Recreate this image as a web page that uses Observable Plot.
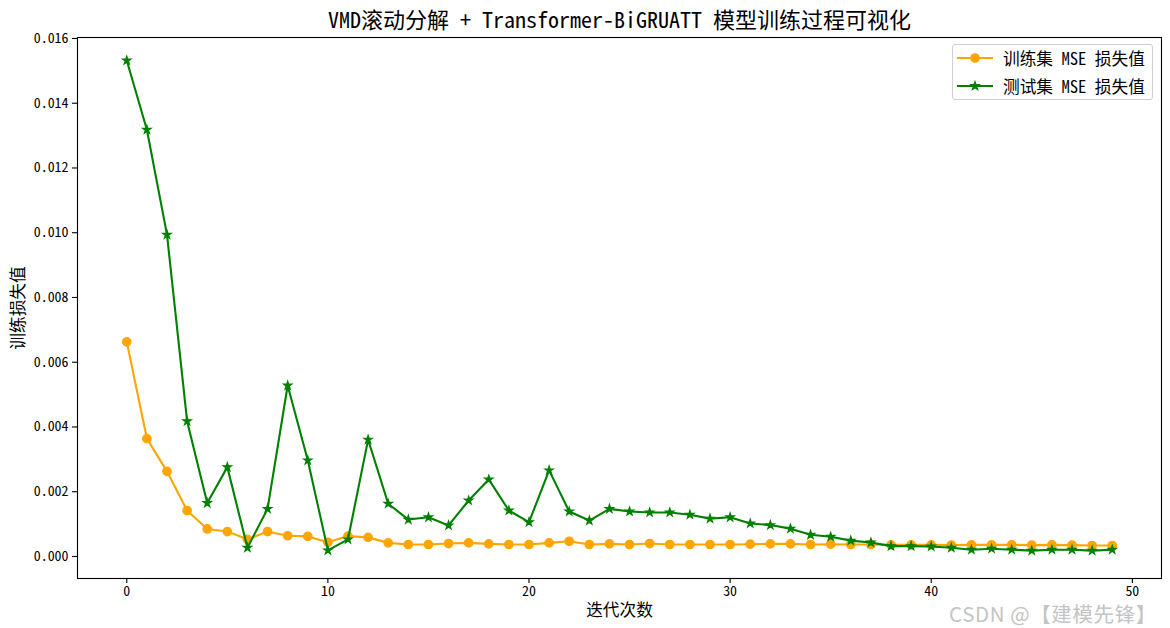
<!DOCTYPE html>
<html>
<head>
<meta charset="utf-8">
<script src="https://cdn.jsdelivr.net/npm/d3@7"></script>
<script src="https://cdn.jsdelivr.net/npm/@observablehq/plot@0.6"></script>
<style>
  html, body { margin: 0; padding: 0; background: #fff; }
  #wrap { position: relative; width: 1170px; height: 628px; font-family: "Noto Sans Mono CJK SC", "DejaVu Sans Mono", "Noto Sans CJK SC", monospace; }
  #legend { position: absolute; left: 952px; top: 44px; width: 199px; height: 54px; border: 1px solid #d0d0d0; border-radius: 3px; background: rgba(255,255,255,0.8); font-size: 16.7px; color: #000; }
  .row { position: absolute; left: 4px; height: 20px; display: flex; align-items: center; }
  .row svg { margin-right: 10px; }
  #wm { position: absolute; left: 949px; top: 603px; font-size: 20.5px; line-height: 1; letter-spacing: 0.6px; color: #c4c4c4; font-family: "Noto Sans CJK SC", sans-serif; white-space: nowrap; }
</style>
</head>
<body>
<div id="wrap"></div>
<script>
// ---- data ----
const epochs = [0,1,2,3,4,5,6,7,8,9,10,11,12,13,14,15,16,17,18,19,20,21,22,23,24,25,26,27,28,29,30,31,32,33,34,35,36,37,38,39,40,41,42,43,44,45,46,47,48,49];
const trainLoss = [0.00663,0.00364,0.00263,0.00142,0.00085,0.00077,0.00053,0.00077,0.00064,0.00062,
                   0.00044,0.00063,0.00059,0.00042,0.00037,0.00037,0.00040,0.00042,0.00039,0.00037,
                   0.00037,0.00042,0.00047,0.00037,0.00039,0.00037,0.00040,0.00037,0.00037,0.00037,
                   0.00037,0.00038,0.00039,0.00039,0.00037,0.00038,0.00037,0.00037,0.00036,0.00036,
                   0.00036,0.00035,0.00036,0.00036,0.00036,0.00035,0.00036,0.00035,0.00034,0.00034];
const testLoss = [0.01532,0.01318,0.00994,0.00418,0.00165,0.00276,0.00027,0.00147,0.00528,0.00297,
                  0.00019,0.00053,0.00361,0.00163,0.00114,0.00121,0.00096,0.00173,0.00238,0.00142,
                  0.00106,0.00266,0.00139,0.00111,0.00147,0.00139,0.00136,0.00136,0.00129,0.00117,
                  0.00121,0.00102,0.00097,0.00086,0.00067,0.00061,0.00049,0.00043,0.00032,0.00032,
                  0.00031,0.00027,0.00021,0.00024,0.00021,0.00018,0.00021,0.00021,0.00018,0.00021];
const xTicks = [0,10,20,30,40,50];
const yTicks = [0,0.002,0.004,0.006,0.008,0.010,0.012,0.014,0.016];
const titleText = "VMD滚动分解 + Transformer-BiGRUATT 模型训练过程可视化";
const xLabel = "迭代次数";
const yLabel = "训练损失值";
const seriesNames = ["训练集 MSE 损失值", "测试集 MSE 损失值"];
const seriesColors = ["orange", "green"];
const watermark = "CSDN @【建模先锋】";

const data = epochs.map((e, i) => ({epoch: e, train: trainLoss[i], test: testLoss[i]}));
const FONT = '"Noto Sans Mono CJK SC", "DejaVu Sans Mono", "Noto Sans CJK SC", monospace';

const chart = Plot.plot({
  width: 1170,
  height: 628,
  marginTop: 37,
  marginBottom: 50,
  marginLeft: 77,
  marginRight: 9,
  style: {fontFamily: FONT, background: "#fff", color: "#000"},
  x: {domain: [-2.45, 51.45]},
  y: {domain: [-0.00068, 0.01603]},
  marks: [
    Plot.axisX({ticks: xTicks, tickSize: 5, tickPadding: 3, fontSize: 13.9, label: null, strokeWidth: 1.1}),
    Plot.axisY({ticks: yTicks, tickSize: 5, tickPadding: 4, fontSize: 13.9, label: null, tickFormat: d3.format(".3f"), strokeWidth: 1.1}),
    Plot.line(data, {x: "epoch", y: "train", stroke: seriesColors[0], strokeWidth: 2.1}),
    Plot.dot(data, {x: "epoch", y: "train", fill: seriesColors[0], stroke: seriesColors[0], strokeWidth: 1.3, r: 4.2, symbol: "circle"}),
    Plot.line(data, {x: "epoch", y: "test", stroke: seriesColors[1], strokeWidth: 2.1}),
    Plot.dot(data, {x: "epoch", y: "test", fill: seriesColors[1], stroke: seriesColors[1], strokeWidth: 1.2, r: 2.6, symbol: "star"}),
    Plot.frame({stroke: "#000", strokeWidth: 1.1}),
    Plot.text([titleText], {frameAnchor: "top", lineAnchor: "middle", dy: -17, fontSize: 22, fill: "#000", text: d => d}),
    Plot.text([xLabel], {frameAnchor: "bottom", lineAnchor: "middle", dy: 32, fontSize: 16.7, fill: "#000", text: d => d}),
    Plot.text([yLabel], {frameAnchor: "left", textAnchor: "middle", lineAnchor: "middle", dx: -59, rotate: -90, fontSize: 16.7, fill: "#000", text: d => d})
  ]
});

const wrap = document.getElementById("wrap");
wrap.appendChild(chart);

// legend
const legend = document.createElement("div");
legend.id = "legend";
const markers = [
  '<circle cx="18" cy="10" r="4.2" fill="orange" stroke="orange" stroke-width="1.3"/>',
  '<path d="' + d3.symbol(d3.symbolStar, Math.PI * 2.6 * 2.6)() + '" transform="translate(18,10)" fill="green" stroke="green" stroke-width="1.2"/>'
];
seriesNames.forEach((name, i) => {
  const row = document.createElement("div");
  row.className = "row";
  row.style.top = (i === 0 ? 3 : 31) + "px";
  row.innerHTML = '<svg width="36" height="20"><line x1="0" y1="10" x2="36" y2="10" stroke="' + seriesColors[i] + '" stroke-width="2.1"/>' + markers[i] + '</svg><span>' + name + '</span>';
  legend.appendChild(row);
});
wrap.appendChild(legend);

const wm = document.createElement("div");
wm.id = "wm";
wm.textContent = watermark;
wrap.appendChild(wm);
</script>
</body>
</html>
